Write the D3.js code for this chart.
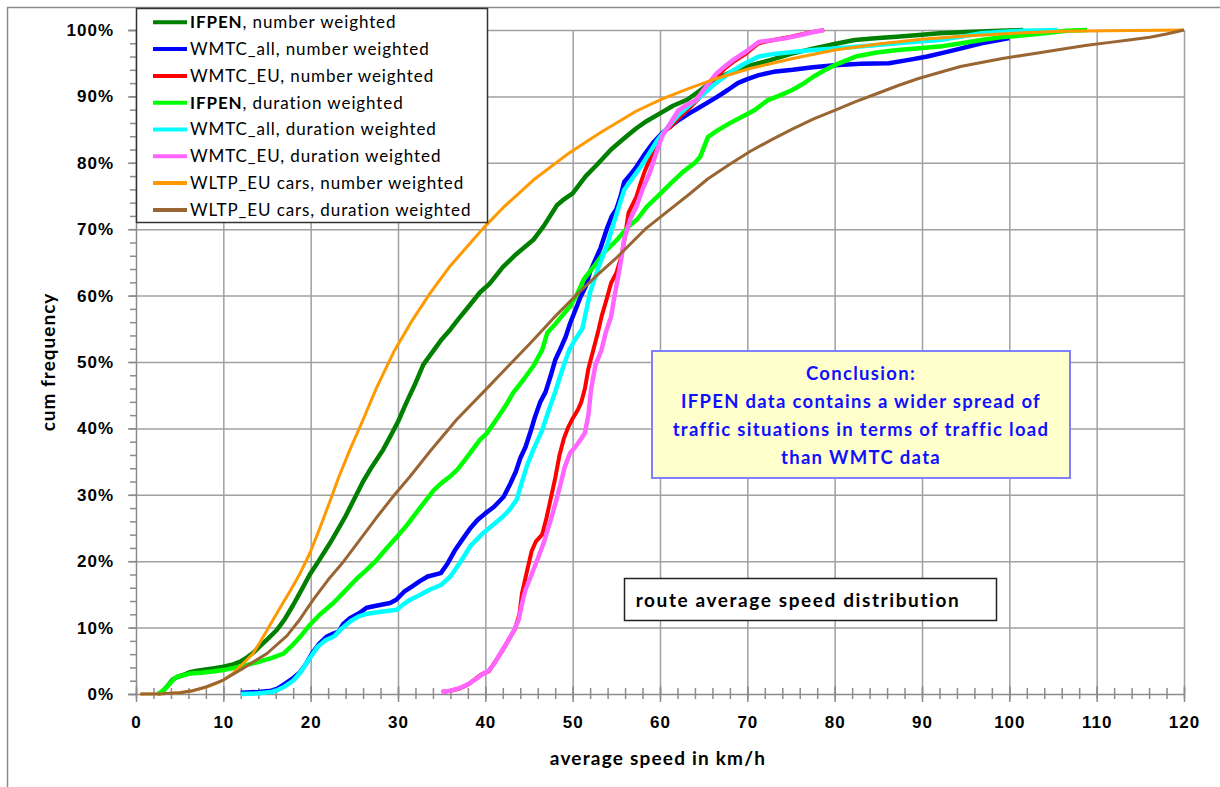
<!DOCTYPE html>
<html lang="en">
<head>
    <meta charset="UTF-8">
    <title>Route average speed distribution</title>
    <script src="https://d3js.org/d3.v7.min.js"></script>
</head>
<style>
    body {
        margin: 0;
        background: #fff;
    }

    svg {
        font-family: Lato, "Open Sans", sans-serif;
    }

    .grid line {
        stroke: #a0a0a0;
        stroke-width: 1.5px;
    }

    .grid path {
        display: none;
    }

    .axis path,
    .axis line {
        stroke: #8c8c8c;
        stroke-width: 1.5px;
    }

    .axis text {
        font-size: 17px;
        font-weight: bold;
        letter-spacing: 1px;
        fill: #000;
    }
</style>
<body>
<div class="chart-container"></div>

<script>
  /** DATA: [average speed km/h, cumulative frequency %] */
  var ifpenNumber = [[2.5,0],[3,0.3],[3.6,1.2],[4.2,2.2],[4.8,2.6],[5.5,2.9],[6.2,3.3],[7,3.5],[8,3.7],[9,3.9],[10,4.1],
    [11,4.4],[12,4.9],[12.8,5.6],[13.5,6.3],[14.2,7.2],[15,8.2],[16.1,9.6],[17,11.2],[18,13.4],[19,15.8],[19.9,18],
    [21,20.2],[22.2,22.7],[23,24.5],[24,26.8],[25,29.4],[26,32],[27,34.2],[28.3,36.8],[29,38.5],[30,41],[31,44],
    [32,46.8],[32.9,49.6],[34,51.6],[35,53.4],[36,54.9],[37,56.6],[38,58.2],[39.4,60.5],[40.5,61.8],[42,64.3],
    [43.5,66.2],[45.5,68.4],[46.7,70.5],[48.2,73.6],[49,74.5],[50,75.4],[51.5,78],[52.7,79.6],[54.4,82],[56,83.8],
    [57.3,85.2],[58.5,86.3],[60.2,87.6],[61.5,88.6],[63.1,89.5],[64.5,90.8],[66,92.3],[68,93.6],[69.9,94.5],
    [72.7,95.5],[75,96.4],[77.5,97.2],[80,97.9],[82.3,98.5],[85,98.8],[87.1,99],[90,99.3],[92,99.5],[95,99.7],
    [99,99.9],[101.6,100]];

  var wmtcAllNumber = [[12,0.2],[14,0.3],[15.5,0.5],[16.2,0.8],[17,1.5],[18,2.4],[18.8,3.3],[19.5,4.6],[20.2,6.2],
    [21,7.6],[21.8,8.6],[22.6,9.1],[23.2,9.4],[23.7,10.5],[24.5,11.4],[25.6,12.2],[26.4,13],[27.5,13.3],[29.1,13.7],
    [29.8,14.2],[30.7,15.4],[31.5,16.1],[32.5,17],[33.4,17.7],[34.9,18.2],[35.7,19.7],[36.5,21.6],[37.6,23.7],
    [38.3,25],[39.1,26.2],[40,27.2],[41,28.2],[42.1,29.7],[42.8,31.5],[43.5,33.5],[44,35.5],[44.6,37.2],[45.2,39.6],
    [45.7,41.8],[46.3,44],[46.9,45.5],[47.5,48],[48,50.3],[48.6,52],[49.2,53.8],[49.7,55.8],[50.3,57.8],[50.9,59.8],
    [51.5,61.4],[52,63.6],[52.6,65.4],[53.2,67.2],[53.9,70],[54.5,72],[55,73],[55.5,75],[55.9,77.1],[56.6,78.2],
    [57.3,79.4],[58.3,81.4],[59.2,83],[60.2,84.4],[61,85.3],[62.1,86.4],[63.3,87.4],[64.6,88.4],[66.5,89.9],
    [67.8,91],[68.9,92],[70,92.6],[71.3,93.2],[73,93.7],[75.2,94],[77.5,94.4],[80,94.7],[83,94.9],[86.2,95],
    [88.5,95.5],[90.6,96],[92.5,96.6],[94.4,97.2],[96.8,98],[98.5,98.4],[100,98.8]];

  var wmtcEuNumber = [[35,0.3],[36,0.5],[37,0.8],[38,1.4],[38.8,2.2],[39.6,3],[40.4,3.4],[41,4.6],[41.9,6.4],
    [42.7,8.2],[43.4,9.8],[43.9,12],[44.2,15.2],[44.6,17.5],[45.3,21.5],[45.8,23],[46.5,24],[47,26.5],[47.5,29.5],
    [48,32.5],[48.5,36],[49,38.5],[49.5,40.2],[50,41.5],[50.6,42.8],[51,44],[51.4,46],[51.8,49],[52.4,52],
    [52.9,54.5],[53.3,56.8],[53.9,59.5],[54.4,61.9],[55,63.4],[55.6,66],[56,69],[56.4,72.5],[57.3,74.9],[57.8,77],
    [58.3,78.9],[59,81],[59.7,83.4],[60.4,84.6],[61.2,85.4],[62.2,86.8],[63.1,87.9],[64.6,89.9],[65.5,91.5],
    [66.5,93],[67.5,94.3],[68.4,95.2],[69.9,96.5],[71.3,98],[73,98.5],[75,99],[77,99.6],[78.8,100]];

  var ifpenDuration = [[2.5,0],[2.9,0.3],[3.4,0.9],[3.9,1.6],[4.3,2.2],[4.7,2.6],[5.4,2.8],[6.2,3.1],[7.5,3.2],
    [8.8,3.4],[10,3.6],[11.1,3.9],[12.5,4.3],[14.2,4.9],[15.5,5.4],[16.9,6.1],[17.8,7.2],[18.8,8.6],[19.9,10.4],
    [21,11.9],[22.6,13.7],[24,15.6],[25.3,17.4],[26.4,18.7],[27.5,20.1],[28.8,22.1],[29.9,23.7],[31,25.4],[32.5,28],
    [34.1,30.7],[35,31.8],[36,32.8],[36.8,33.8],[37.8,35.5],[39.4,38.3],[40.2,39.3],[41.5,41.8],[42.5,43.8],
    [43.2,45.4],[44.4,47.4],[45.5,49.4],[46.5,51.8],[47.1,54.4],[48,55.7],[49.7,58.4],[50.5,60.2],[51.3,62.5],
    [52.5,64.5],[53.6,66.5],[55,68.3],[56.4,70.4],[57.4,71.5],[58.5,73.4],[59.7,74.9],[61,76.6],[62.6,78.6],
    [64,80],[64.6,80.9],[65.5,83.9],[66.5,84.8],[67.9,85.9],[69.5,87],[70.8,87.9],[72.3,89.4],[73.8,90.2],
    [75.2,91],[76.5,92],[77.6,93],[78.8,93.9],[80,94.7],[82.4,96],[84.8,96.6],[87.2,97],[90,97.3],[92,97.5],
    [94.5,98],[96.8,98.5],[99,98.9],[101.7,99.2],[104,99.5],[106.5,99.9],[108.9,100]];

  var wmtcAllDuration = [[12,0],[14,0.1],[15.5,0.3],[16.2,0.6],[17,1.1],[18,2],[18.9,3.4],[19.8,5.2],[20.8,7.1],
    [21.7,8.1],[22.7,8.7],[23.5,9.8],[24.6,11],[25.5,11.7],[26.5,12.1],[28,12.4],[29.9,12.7],[30.6,13.5],
    [31.4,14.2],[32.5,14.9],[33.6,15.7],[34.9,16.4],[36,17.7],[37.2,20],[38.3,22.3],[39.8,24.3],[41,25.6],
    [42,26.7],[42.8,27.8],[43.6,29.3],[44.2,32],[44.8,34.5],[45.5,36.8],[46.5,39.7],[47.2,42.5],[48,45.5],
    [48.8,48.8],[49.6,51.8],[50.2,53.2],[51.1,55],[51.6,58],[52,60.5],[53,64.4],[54,67.8],[54.6,70.5],[55.2,73],
    [55.9,75.9],[56.8,77.6],[57.8,79.4],[58.8,81.5],[59.7,83.4],[61,85.5],[62.1,87.2],[63.3,88.6],[64.6,89.9],
    [66.2,91.8],[67.9,93.5],[69.5,94.8],[71.3,96],[73,96.4],[75.2,96.7],[77.5,97],[80,97.2],[83.5,97.6],[87.2,98],
    [90,98.3],[92,98.5],[94.5,99],[96.8,99.5],[99,99.7],[101.7,99.9],[105.5,100]];

  var wmtcEuDuration = [[35,0.3],[36,0.5],[37.1,0.9],[38.2,1.6],[39,2.3],[39.8,3.1],[40.3,3.4],[41,4.5],[41.7,6.1],
    [42.5,7.8],[43.2,9.4],[43.8,11.1],[44.3,14.2],[44.6,15.7],[45.3,18],[46.1,20.7],[46.8,23.2],[47.6,26.7],
    [48.3,30],[49.1,34.2],[49.7,36.3],[50.3,37.2],[51,38.5],[51.4,39.3],[51.8,42],[52.1,45.8],[52.6,49.5],
    [53.3,51.8],[53.8,54.5],[54.4,56.8],[54.8,60],[55.2,62.8],[55.5,65],[55.9,68.5],[56.6,71.5],[57.3,73.4],
    [58,76],[58.8,78.4],[59.5,81.2],[60.2,83.9],[61.2,86],[62.1,87.9],[63,88.7],[64.1,89.4],[65.3,91.5],[66.5,93.5],
    [67.5,94.6],[68.4,95.5],[69.9,96.8],[71.3,98.2],[74.2,98.7],[76,99.2],[77.6,99.7],[78.8,100]];

  var wltpNumber = [[0.5,0],[3,0.05],[5,0.2],[6.5,0.5],[8,1],[9,1.5],[10,2.1],[11,3],[11.9,4.1],[13.4,6.1],
    [14.2,7.8],[15,9.6],[16.5,13],[17.6,15.4],[18.8,18.2],[19.9,21.2],[21,24.8],[22.2,29],[23.2,32.6],[24.5,36.8],
    [26,41.3],[27.5,46],[29.5,51.5],[31.5,56],[33.7,60.4],[36,64.5],[38,67.5],[39.8,70.2],[42,73.2],[45.5,77.4],
    [49.3,81.2],[53.1,84.5],[57.3,87.8],[60.2,89.6],[63.1,91.1],[66,92.5],[70.3,94.2],[75.2,95.7],[80,97],
    [85,97.9],[90,98.6],[95,99.1],[101.7,99.6],[106,99.8],[111.3,99.9],[120,100]];

  var wltpDuration = [[0.5,0],[3,0.05],[5,0.2],[6.5,0.5],[8.1,1.1],[10,2.1],[12.3,3.9],[15,6.1],[17.3,8.8],
    [18.8,11.3],[20.3,14.2],[22,17.2],[23.8,20],[25.5,23],[27.5,26.5],[29.6,30],[31.4,32.8],[33.7,36.6],
    [36.7,41.3],[39.8,45.5],[42.5,49.2],[45.2,52.9],[47.8,56.6],[50.5,60.2],[53,63.3],[55.1,65.8],[58.3,70],
    [60.5,72.3],[63.1,75],[65.5,77.6],[67.9,79.7],[70.3,81.7],[72.8,83.5],[75.2,85.1],[77.6,86.6],[80,87.9],
    [82.4,89.2],[84.8,90.4],[87.2,91.6],[89.6,92.7],[92,93.6],[94.4,94.5],[96.8,95.1],[99.2,95.7],[101.6,96.2],
    [104,96.7],[106.5,97.2],[108.9,97.7],[111.3,98.1],[113.7,98.5],[116.1,98.9],[118,99.4],[120,100]];

  var seriesNames = ['IFPEN, number weighted', 'WMTC_all, number weighted', 'WMTC_EU, number weighted',
    'IFPEN, duration weighted', 'WMTC_all, duration weighted', 'WMTC_EU, duration weighted',
    'WLTP_EU cars, number weighted', 'WLTP_EU cars, duration weighted'];
  var seriesValues = [ifpenNumber, wmtcAllNumber, wmtcEuNumber, ifpenDuration,
    wmtcAllDuration, wmtcEuDuration, wltpNumber, wltpDuration];

  var xTicks = d3.range(0, 121, 10);
  var yTicks = d3.range(0, 101, 10);

  /** styles, one per series */
  var seriesColors = ['#008000', '#0000ff', '#ff0000', '#00ff00', '#00ffff', '#ff66ff', '#ff9900', '#996633'];
  var seriesWidths = [4.5, 4.5, 4, 4.5, 4.5, 4.5, 3, 3];

  /** LAYOUT */
  var width = 1220, height = 787;
  var plotLeft = 136, plotRight = 1184, plotTop = 30, plotBottom = 694;

  var svg = d3.select('.chart-container').append('svg')
    .attr('width', width)
    .attr('height', height);

  // outer chart frame (runs off the picture at right and bottom)
  svg.append('rect')
    .attr('x', 7.5).attr('y', 7.5)
    .attr('width', 1400).attr('height', 1000)
    .attr('fill', 'none')
    .attr('stroke', '#8c8c8c')
    .attr('stroke-width', 1.5);

  var x = d3.scaleLinear().domain([0, 120]).range([plotLeft, plotRight]);
  var y = d3.scaleLinear().domain([0, 100]).range([plotBottom, plotTop]);

  /** grid */
  svg.append('g')
    .attr('class', 'grid')
    .attr('transform', 'translate(0,' + plotBottom + ')')
    .call(d3.axisBottom(x).tickValues(xTicks.slice(1)).tickSize(-(plotBottom - plotTop)).tickFormat(''));

  svg.append('g')
    .attr('class', 'grid')
    .attr('transform', 'translate(' + plotLeft + ',0)')
    .call(d3.axisLeft(y).tickValues(yTicks.slice(1)).tickSize(-(plotRight - plotLeft)).tickFormat(''));

  /** axes */
  var yMinor = svg.append('g')
    .attr('class', 'axis')
    .attr('transform', 'translate(' + plotLeft + ',0)')
    .call(d3.axisLeft(y).tickValues(d3.range(0, 101, 2)).tickSize(6).tickFormat(''));
  yMinor.select('.domain').remove();

  svg.append('g')
    .attr('class', 'axis')
    .attr('transform', 'translate(' + plotLeft + ',0)')
    .call(d3.axisLeft(y).tickValues(yTicks).tickSize(8).tickPadding(14).tickFormat(function (d) { return d + '%'; }));

  var xMinor = svg.append('g')
    .attr('class', 'axis')
    .attr('transform', 'translate(0,' + plotBottom + ')')
    .call(d3.axisBottom(x).tickValues(d3.range(0, 121, 2)).tickSize(5).tickFormat(''));
  xMinor.selectAll('.tick line').attr('y1', -6);
  xMinor.select('.domain').remove();

  var xAxis = svg.append('g')
    .attr('class', 'axis')
    .attr('transform', 'translate(0,' + plotBottom + ')')
    .call(d3.axisBottom(x).tickValues(xTicks).tickSize(8).tickSizeOuter(0).tickPadding(14));
  xAxis.selectAll('.tick line').attr('y1', -8);

  /** axis titles */
  svg.append('text')
    .attr('transform', 'translate(47,' + ((plotTop + plotBottom) / 2) + ') rotate(-90)')
    .attr('text-anchor', 'middle')
    .attr('dominant-baseline', 'central')
    .style('font-size', '19px')
    .style('font-weight', 'bold')
    .style('letter-spacing', '1px')
    .text('cum frequency');

  svg.append('text')
    .attr('x', 658)
    .attr('y', 765)
    .attr('text-anchor', 'middle')
    .style('font-size', '19px')
    .style('font-weight', 'bold')
    .style('letter-spacing', '1.2px')
    .text('average speed in km/h');

  /** curves */
  var line = d3.line()
    .x(function (d) { return x(d[0]); })
    .y(function (d) { return y(d[1]); });

  svg.append('g').selectAll('path')
    .data(seriesValues)
    .enter().append('path')
    .attr('d', line)
    .attr('fill', 'none')
    .attr('stroke', function (_, i) { return seriesColors[i]; })
    .attr('stroke-width', function (_, i) { return seriesWidths[i]; })
    .attr('stroke-linejoin', 'round');

  /** legend */
  var legend = svg.append('g');
  legend.append('rect')
    .attr('x', 136.5).attr('y', 8.5)
    .attr('width', 351).attr('height', 214)
    .attr('fill', '#fff')
    .attr('stroke', '#333')
    .attr('stroke-width', 1.5);

  var legendItem = legend.selectAll('g')
    .data(seriesNames)
    .enter().append('g')
    .attr('transform', function (_, i) { return 'translate(0,' + (22.3 + i * 26.8) + ')'; });

  legendItem.append('line')
    .attr('x1', 153).attr('x2', 187)
    .attr('stroke', function (_, i) { return seriesColors[i]; })
    .attr('stroke-width', 4);

  legendItem.append('text')
    .attr('x', 190)
    .attr('dy', '0.35em')
    .style('font-size', '17px')
    .style('letter-spacing', '0.9px')
    .each(function (d) {
      var t = d3.select(this);
      if (d.indexOf('IFPEN') === 0) {
        t.append('tspan').style('font-weight', 'bold').text('IFPEN');
        t.append('tspan').text(d.slice(5));
      } else {
        t.text(d);
      }
    });

  /** conclusion box */
  var conclusionLines = ['Conclusion:', 'IFPEN data contains a wider spread of',
    'traffic situations in terms of traffic load', 'than WMTC data'];
  svg.append('rect')
    .attr('x', 652).attr('y', 351)
    .attr('width', 418).attr('height', 127)
    .attr('fill', '#ffffcc')
    .attr('stroke', '#8080ff')
    .attr('stroke-width', 2);
  svg.append('g').selectAll('text')
    .data(conclusionLines)
    .enter().append('text')
    .attr('x', 861)
    .attr('y', function (_, i) { return 374 + i * 28; })
    .attr('dy', '0.35em')
    .attr('text-anchor', 'middle')
    .attr('fill', '#1010ff')
    .style('font-size', '18.5px')
    .style('font-weight', 'bold')
    .style('letter-spacing', '1.3px')
    .text(function (d) { return d; });

  /** title box */
  svg.append('rect')
    .attr('x', 624.5).attr('y', 578.5)
    .attr('width', 372).attr('height', 42)
    .attr('fill', '#fff')
    .attr('stroke', '#222')
    .attr('stroke-width', 1.5);
  svg.append('text')
    .attr('x', 798)
    .attr('y', 600)
    .attr('dy', '0.35em')
    .attr('text-anchor', 'middle')
    .style('font-size', '19px')
    .style('font-weight', 'bold')
    .style('letter-spacing', '1.6px')
    .text('route average speed distribution');
</script>
</body>
</html>
